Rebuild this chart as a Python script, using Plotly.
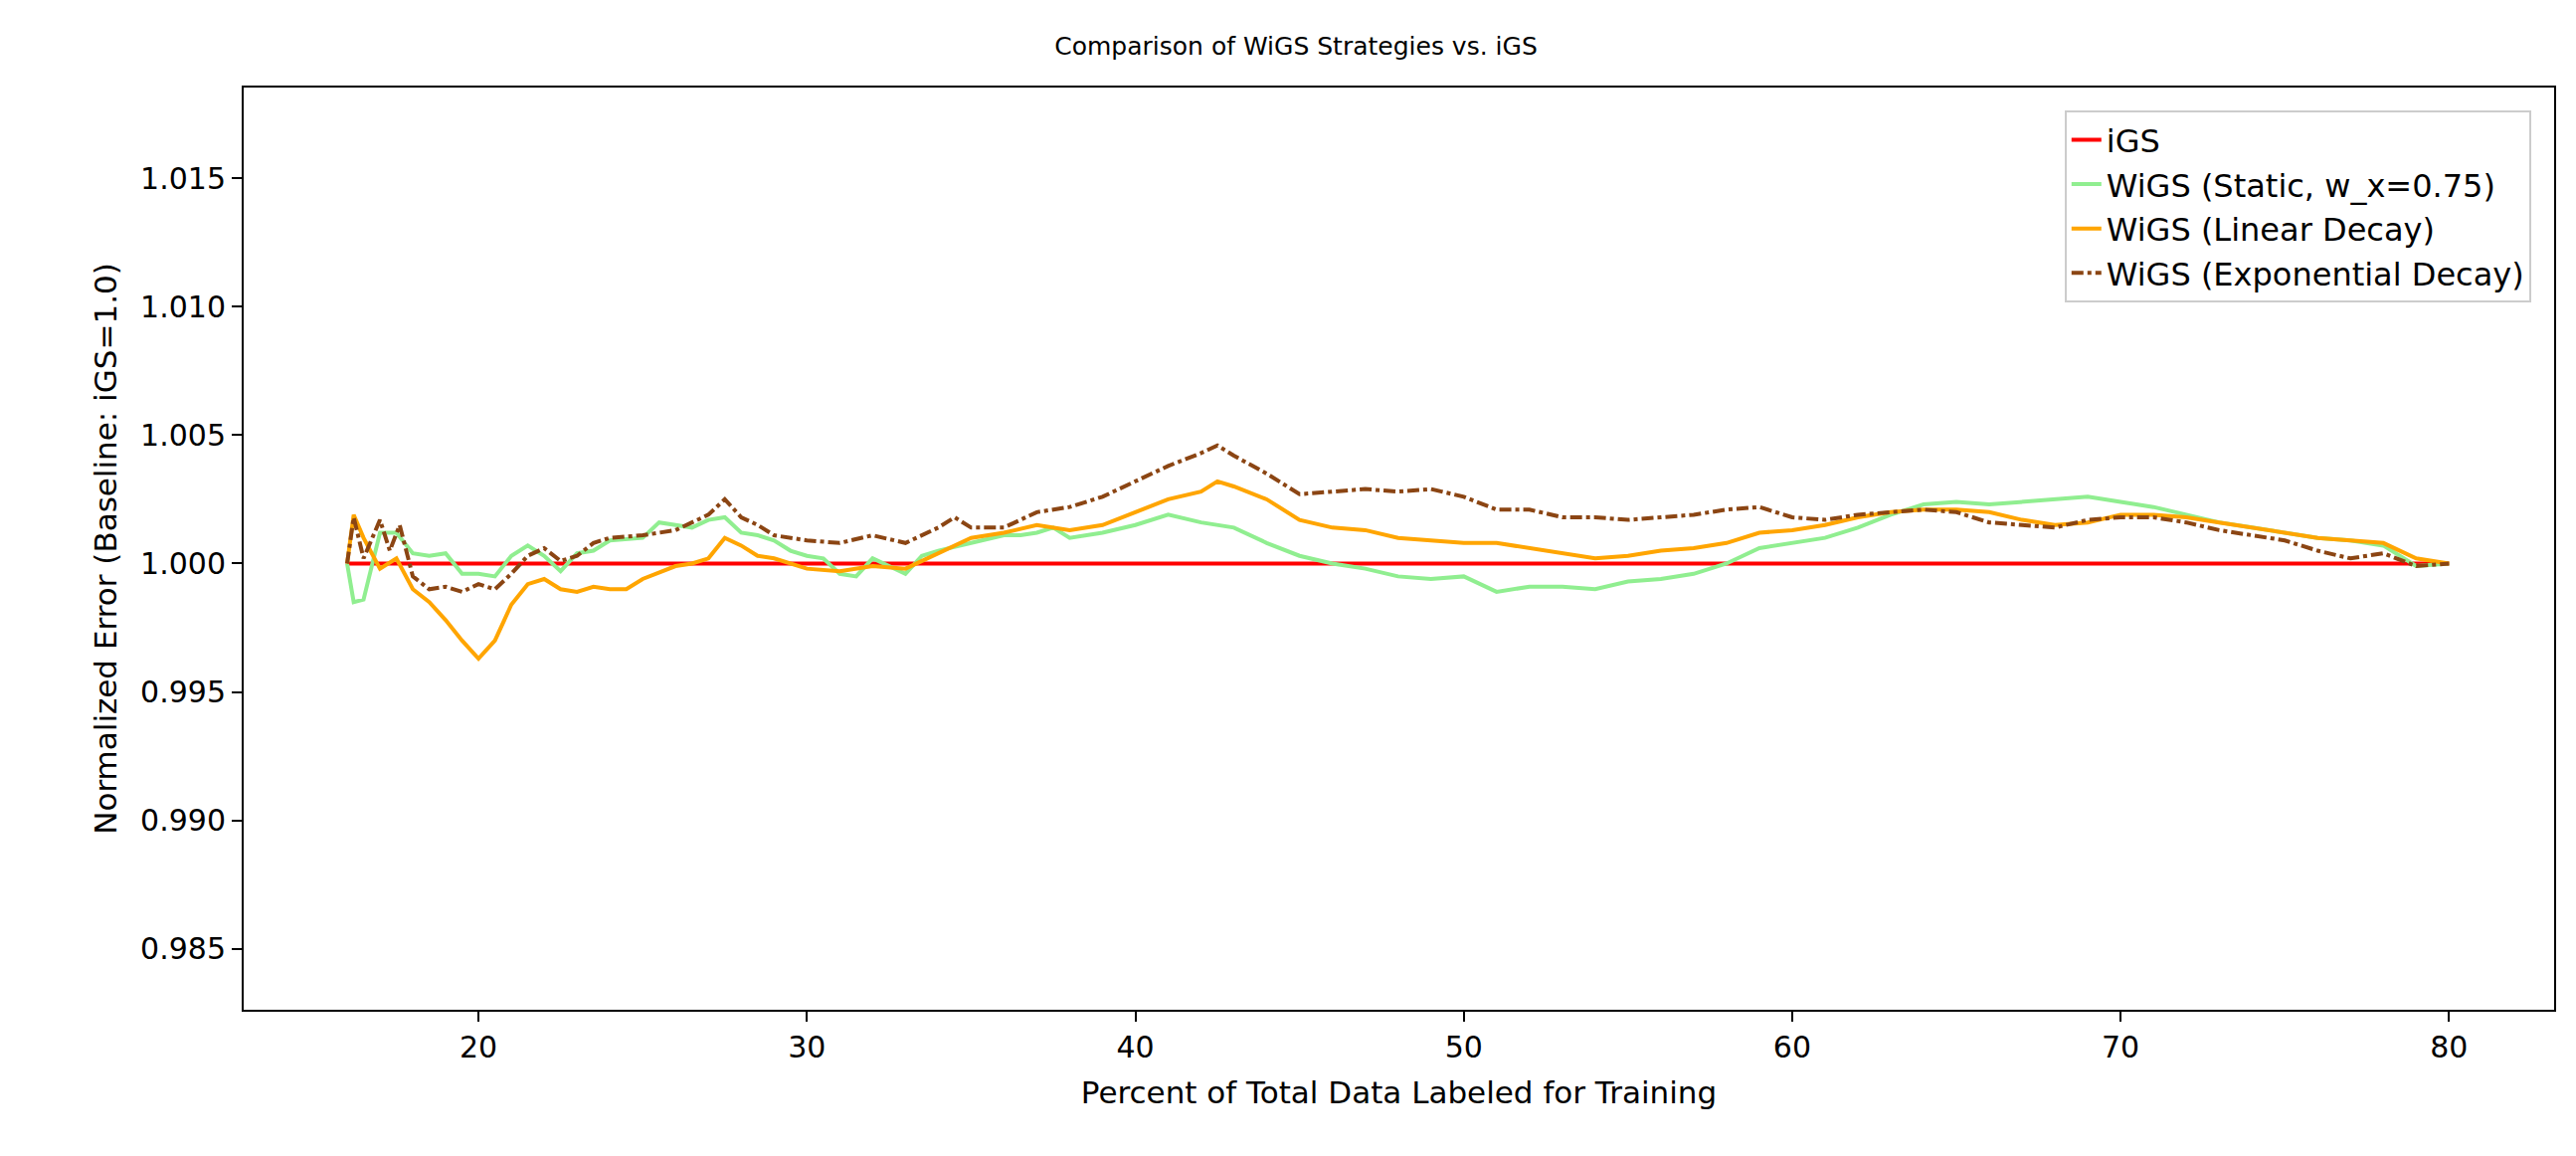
import plotly.graph_objects as go

x_static = [16,16.2,16.5,17,17.5,18,18.5,19,19.5,20,20.5,21,21.5,22,22.5,23,23.5,24,25,25.5,26,26.5,27,27.5,28,28.5,29,29.5,30,30.5,31,31.5,32,32.5,33,33.5,34,35,36,36.5,37,37.5,38,39,40,41,42,43,44,45,46,47,48,49,50,51,52,53,54,55,56,57,58,59,60,61,62,63,64,65,66,67,68,69,70,71,72,73,74,75,76,77,78,79,80]
y_static = [1.000,0.9985,0.9986,1.0012,1.0012,1.0004,1.0003,1.0004,0.9996,0.9996,0.9995,1.0003,1.0007,1.0003,0.9997,1.0004,1.0005,1.0009,1.0010,1.0016,1.0015,1.0014,1.0017,1.0018,1.0012,1.0011,1.0009,1.0005,1.0003,1.0002,0.9996,0.9995,1.0002,0.9999,0.9996,1.0003,1.0005,1.0008,1.0011,1.0011,1.0012,1.0014,1.0010,1.0012,1.0015,1.0019,1.0016,1.0014,1.0008,1.0003,1.0000,0.9998,0.9995,0.9994,0.9995,0.9989,0.9991,0.9991,0.9990,0.9993,0.9994,0.9996,1.0000,1.0006,1.0008,1.0010,1.0014,1.0019,1.0023,1.0024,1.0023,1.0024,1.0025,1.0026,1.0024,1.0022,1.0019,1.0016,1.0014,1.0012,1.0010,1.0009,1.0007,0.9999,1.0000]

x_linear = [16,16.2,16.5,17,17.5,18,18.5,19,19.5,20,20.5,21,21.5,22,22.5,23,23.5,24,24.5,25,26,26.5,27,27.5,28,28.5,29,30,31,32,33,34,35,36,37,38,39,40,41,42,42.5,43,44,45,46,47,48,49,50,51,52,53,54,55,56,57,58,59,60,61,62,63,64,65,66,67,68,69,70,71,72,73,74,75,76,77,78,79,80]
y_linear = [1.000,1.0019,1.0010,0.9998,1.0002,0.9990,0.9985,0.9978,0.9970,0.9963,0.9970,0.9984,0.9992,0.9994,0.9990,0.9989,0.9991,0.9990,0.9990,0.9994,0.9999,1.0000,1.0002,1.0010,1.0007,1.0003,1.0002,0.9998,0.9997,0.9999,0.9998,1.0004,1.0010,1.0012,1.0015,1.0013,1.0015,1.0020,1.0025,1.0028,1.0032,1.0030,1.0025,1.0017,1.0014,1.0013,1.0010,1.0009,1.0008,1.0008,1.0006,1.0004,1.0002,1.0003,1.0005,1.0006,1.0008,1.0012,1.0013,1.0015,1.0018,1.0020,1.0021,1.0021,1.0020,1.0017,1.0015,1.0016,1.0019,1.0019,1.0018,1.0016,1.0014,1.0012,1.0010,1.0009,1.0008,1.0002,1.0000]

x_exp = [16,16.2,16.5,17,17.3,17.6,18,18.5,19,19.5,20,20.5,21,21.5,22,22.5,23,23.5,24,25,26,27,27.5,28,28.5,29,30,31,32,33,34,34.5,35,36,37,38,39,40,41,42,42.5,43,44,45,46,47,48,49,50,51,52,53,54,55,56,57,58,59,60,61,62,63,64,65,66,67,68,69,70,71,72,73,74,75,76,77,78,79,80]
y_exp = [1.000,1.0018,1.0002,1.0017,1.0005,1.0015,0.9995,0.9990,0.9991,0.9989,0.9992,0.9990,0.9996,1.0003,1.0006,1.0001,1.0003,1.0008,1.0010,1.0011,1.0013,1.0019,1.0025,1.0018,1.0015,1.0011,1.0009,1.0008,1.0011,1.0008,1.0014,1.0018,1.0014,1.0014,1.0020,1.0022,1.0026,1.0032,1.0038,1.0043,1.0046,1.0042,1.0035,1.0027,1.0028,1.0029,1.0028,1.0029,1.0026,1.0021,1.0021,1.0018,1.0018,1.0017,1.0018,1.0019,1.0021,1.0022,1.0018,1.0017,1.0019,1.0020,1.0021,1.0020,1.0016,1.0015,1.0014,1.0017,1.0018,1.0018,1.0016,1.0013,1.0011,1.0009,1.0005,1.0002,1.0004,0.9999,1.0000]

x_igs = [16, 80]
y_igs = [1.0, 1.0]

y_ticks = [0.985, 0.990, 0.995, 1.000, 1.005, 1.010, 1.015]
y_tick_labels = ["0.985", "0.990", "0.995", "1.000", "1.005", "1.010", "1.015"]
x_ticks = [20, 30, 40, 50, 60, 70, 80]

fig = go.Figure()
fig.add_trace(go.Scatter(x=x_igs, y=y_igs, mode="lines", name="iGS", line=dict(color="red", width=4)))
fig.add_trace(go.Scatter(x=x_static, y=y_static, mode="lines", name="WiGS (Static, w_x=0.75)", line=dict(color="lightgreen", width=4)))
fig.add_trace(go.Scatter(x=x_linear, y=y_linear, mode="lines", name="WiGS (Linear Decay)", line=dict(color="orange", width=4)))
fig.add_trace(go.Scatter(x=x_exp, y=y_exp, mode="lines", name="WiGS (Exponential Decay)", line=dict(color="#8B4513", width=4, dash="dashdot")))

axis_common = dict(showgrid=False, zeroline=False, showline=True, linecolor="black", linewidth=2, mirror=True,
                   ticks="outside", ticklen=10, tickwidth=2, tickcolor="black", tickfont=dict(size=30, color="black"))
fig.update_layout(
    width=2590, height=1162,
    paper_bgcolor="white", plot_bgcolor="white",
    font=dict(family="DejaVu Sans", color="black"),
    margin=dict(l=237, r=30, t=80, b=155),
    title=dict(text="Comparison of WiGS Strategies vs. iGS", x=0.5, xanchor="center", y=0.975, yanchor="top", font=dict(size=25)),
    xaxis=dict(range=[12.85, 83.2], tickvals=x_ticks, title=dict(text="Percent of Total Data Labeled for Training", font=dict(size=31), standoff=18), **axis_common),
    yaxis=dict(range=[0.98263, 1.01853], tickvals=y_ticks, ticktext=y_tick_labels, title=dict(text="Normalized Error (Baseline: iGS=1.0)", font=dict(size=31), standoff=14), **axis_common),
    legend=dict(x=0.99, y=0.975, xanchor="right", yanchor="top", bgcolor="white", bordercolor="#cccccc", borderwidth=2, font=dict(size=32), tracegroupgap=4),
)
fig.write_html("out.html")
